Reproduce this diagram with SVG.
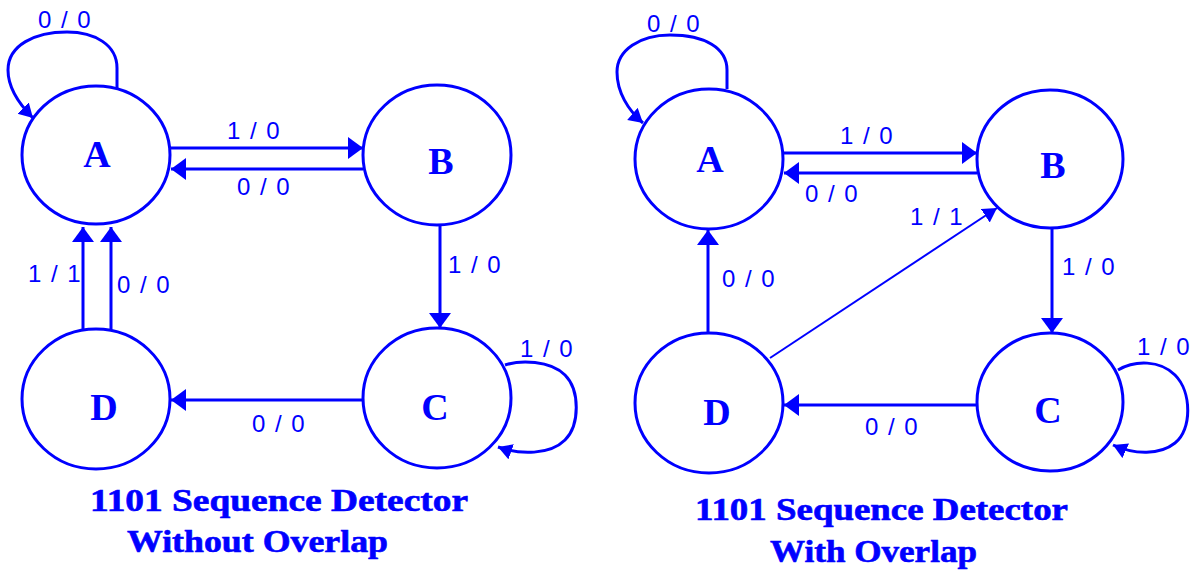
<svg xmlns="http://www.w3.org/2000/svg" width="1191" height="571" viewBox="0 0 1191 571">
<style>
.node ellipse{fill:#fff;stroke:#0000ff;stroke-width:3}
.node text{font-family:"Liberation Serif",serif;font-weight:bold;font-size:38px;fill:#0000ff;text-anchor:middle}
.edge{fill:none;stroke:#0000ff;stroke-width:3}
.thin{stroke-width:2}
.lbl{font-family:"Liberation Sans",Arial,sans-serif;font-size:24px;letter-spacing:1.5px;fill:#0000ff}
.title{font-family:"Liberation Serif",serif;font-weight:bold;font-size:31px;fill:#0000ff;stroke:#0000ff;stroke-width:0.6}
</style>
<defs>
<marker id="ah" markerUnits="userSpaceOnUse" markerWidth="16" markerHeight="24" refX="15" refY="11" orient="auto">
<path d="M0,0 L15,11 L0,22 Z" fill="#0000ff"/>
</marker>
<marker id="ahs" markerUnits="userSpaceOnUse" markerWidth="16" markerHeight="20" refX="14" refY="8" orient="auto">
<path d="M0,0 L14,8 L0,16 Z" fill="#0000ff"/>
</marker>
</defs>
<rect width="1191" height="571" fill="#fff"/>
<g id="connectors">
<path class="edge" d="M117,88 L117,68 C117,45 95,32 67,32 C35,32 8,45 8,70 C8,88 18,103 33,118" marker-end="url(#ahs)"/>
<path class="edge" d="M170,148 L363,148" marker-end="url(#ah)"/>
<path class="edge" d="M363,169 L171,169" marker-end="url(#ah)"/>
<path class="edge" d="M440,226 L440,328" marker-end="url(#ah)"/>
<path class="edge" d="M505,365 C520,360 550,360 565,375 C580,390 580,425 565,440 C550,455 520,455 498,447" marker-end="url(#ahs)"/>
<path class="edge" d="M363,400 L171,400" marker-end="url(#ah)"/>
<path class="edge" d="M83,329 L83,227" marker-end="url(#ah)"/>
<path class="edge" d="M111,329 L111,227" marker-end="url(#ah)"/>
<path class="edge" d="M727,89 L727,70 C727,48 705,35 670,35 C640,35 617,50 617,72 C617,92 628,110 643,123" marker-end="url(#ahs)"/>
<path class="edge" d="M783,153 L977,153" marker-end="url(#ah)"/>
<path class="edge" d="M977,173 L784,173" marker-end="url(#ah)"/>
<path class="edge" d="M1052,228 L1052,333" marker-end="url(#ah)"/>
<path class="edge" d="M1118,370 C1135,360 1160,360 1175,375 C1192,392 1192,430 1175,443 C1160,455 1135,455 1113,445" marker-end="url(#ahs)"/>
<path class="edge" d="M977,405 L784,405" marker-end="url(#ah)"/>
<path class="edge" d="M708,333 L708,230" marker-end="url(#ah)"/>
<path class="edge thin" d="M770,358 L997,208" marker-end="url(#ahs)"/>
<text class="lbl" x="38" y="28">0 / 0</text>
<text class="lbl" x="227" y="139">1 / 0</text>
<text class="lbl" x="237" y="195">0 / 0</text>
<text class="lbl" x="448" y="273">1 / 0</text>
<text class="lbl" x="520" y="357">1 / 0</text>
<text class="lbl" x="252" y="432">0 / 0</text>
<text class="lbl" x="28" y="282">1 / 1</text>
<text class="lbl" x="117" y="293">0 / 0</text>
<text class="lbl" x="647" y="32">0 / 0</text>
<text class="lbl" x="840" y="144">1 / 0</text>
<text class="lbl" x="805" y="202">0 / 0</text>
<text class="lbl" x="910" y="225">1 / 1</text>
<text class="lbl" x="1062" y="275">1 / 0</text>
<text class="lbl" x="1137" y="355">1 / 0</text>
<text class="lbl" x="865" y="435">0 / 0</text>
<text class="lbl" x="722" y="287">0 / 0</text>
</g>
<g id="L-A" class="node"><ellipse cx="96" cy="155" rx="74" ry="69"/><text x="97" y="167">A</text></g>
<g id="L-B" class="node"><ellipse cx="437" cy="155" rx="74" ry="70"/><text x="441" y="174">B</text></g>
<g id="L-C" class="node"><ellipse cx="437" cy="398" rx="74" ry="70"/><text x="435" y="420">C</text></g>
<g id="L-D" class="node"><ellipse cx="96" cy="399" rx="74" ry="70"/><text x="104" y="420">D</text></g>
<g id="R-A" class="node"><ellipse cx="709" cy="159" rx="74" ry="70"/><text x="710" y="172">A</text></g>
<g id="R-B" class="node"><ellipse cx="1050" cy="159" rx="73" ry="69"/><text x="1053" y="178">B</text></g>
<g id="R-C" class="node"><ellipse cx="1050" cy="402" rx="73" ry="69"/><text x="1048" y="423">C</text></g>
<g id="R-D" class="node"><ellipse cx="709" cy="403" rx="74" ry="70"/><text x="717" y="425">D</text></g>
<g id="titles">
<text class="title" x="90" y="511" textLength="378" lengthAdjust="spacingAndGlyphs">1101 Sequence Detector</text>
<text class="title" x="127" y="552" textLength="261" lengthAdjust="spacingAndGlyphs">Without Overlap</text>
<text class="title" x="695" y="520" textLength="373" lengthAdjust="spacingAndGlyphs">1101 Sequence Detector</text>
<text class="title" x="770" y="562" textLength="207" lengthAdjust="spacingAndGlyphs">With Overlap</text>
</g>
</svg>
